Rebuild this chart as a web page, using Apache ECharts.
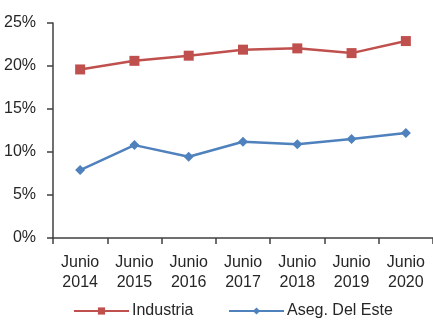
<!DOCTYPE html>
<html><head><meta charset="utf-8">
<script src="https://cdn.jsdelivr.net/npm/echarts@6/dist/echarts.min.js"></script>
<style>html,body{margin:0;padding:0;background:#fff}#c{width:433px;height:322px}</style>
</head><body><div id="c"></div>
<script>
var categories = ['Junio\n2014','Junio\n2015','Junio\n2016','Junio\n2017','Junio\n2018','Junio\n2019','Junio\n2020'];
var industria = [19.6, 20.6, 21.2, 21.9, 22.05, 21.5, 22.9];
var asegDelEste = [7.9, 10.8, 9.45, 11.2, 10.9, 11.5, 12.2];
var seriesNames = ['Industria', 'Aseg. Del Este'];

var chart = echarts.init(document.getElementById('c'));
var font = 'Liberation Sans, Arial, sans-serif';
var txt = '#262626';
function legendAt(left, name) {
  return {
    left: left, top: 298, itemWidth: 55, itemHeight: 9, itemGap: 0,
    textStyle: {fontSize: 16, color: txt, fontFamily: font, padding: [0, 0, 0, -2]},
    data: [name]
  };
}
chart.setOption({
  animation: false,
  textStyle: {fontFamily: font},
  grid: {left: 53, top: 23, right: -5, bottom: 84, containLabel: false},
  legend: [legendAt(68, seriesNames[0]), legendAt(223, seriesNames[1])],
  xAxis: {
    type: 'category', data: categories, boundaryGap: true,
    axisLine: {lineStyle: {color: '#404040', width: 1.5}},
    axisTick: {show: true, length: 6, lineStyle: {color: '#404040', width: 1.5}},
    axisLabel: {fontSize: 16, color: txt, lineHeight: 19.5, margin: 15, interval: 0}
  },
  yAxis: {
    type: 'value', min: 0, max: 25, interval: 5,
    axisLine: {show: true, lineStyle: {color: '#404040', width: 1.5}},
    axisTick: {show: true, length: 6, lineStyle: {color: '#404040', width: 1.5}},
    splitLine: {show: false},
    axisLabel: {fontSize: 16, color: txt, formatter: '{value}%', margin: 17}
  },
  series: [
    {name: seriesNames[0], type: 'line', data: industria, symbol: 'rect', symbolSize: 10,
     lineStyle: {color: '#C0504D', width: 2.5}, itemStyle: {color: '#C0504D'}},
    {name: seriesNames[1], type: 'line', data: asegDelEste, symbol: 'diamond', symbolSize: 10,
     lineStyle: {color: '#4F81BD', width: 2.5}, itemStyle: {color: '#4F81BD'}}
  ]
});
</script></body></html>
